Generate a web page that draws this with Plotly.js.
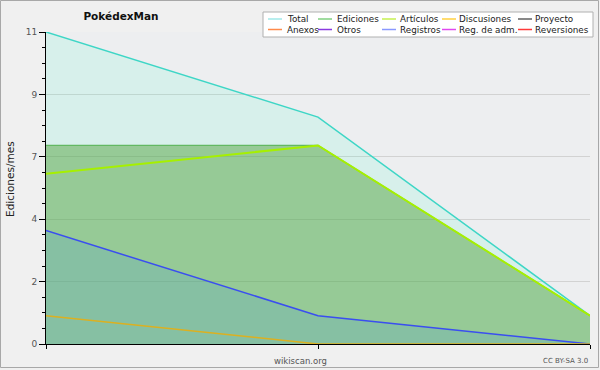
<!DOCTYPE html>
<html><head><meta charset="utf-8">
<script src="https://cdn.plot.ly/plotly-3.0.1.min.js"></script>
<style>html,body{margin:0;padding:0;background:#f0f0f0;}#chart{width:600px;height:370px;}</style>
</head><body><div id="chart"></div>
<script>
// ---- data ----
const months = [0, 1, 2];
const total = [11, 8, 1];
const ediciones = [7, 7, 1];
const articulos = [6, 7, 1];
const discusiones = [1, 0, 0];
const registros = [4, 1, 0];
const yTickVals = [0, 2.2, 4.4, 6.6, 8.8, 11];
const yTickText = ['0', '2', '4', '7', '9', '11'];
const legendNames = [['Total', 'Anexos'], ['Ediciones', 'Otros'], ['Artículos', 'Registros'], ['Discusiones', 'Reg. de adm.'], ['Proyecto', 'Reversiones']];
const legendColors = [['#a0e8e8', '#ff8a4a'], ['#80d080', '#8a3ae0'], ['#c6f050', '#8a98ff'], ['#ffd040', '#e048f0'], ['#606060', '#ff3a3a']];

// ---- layout geometry (pixels) ----
const W = 600, H = 370, ML = 46, MR = 10, MT = 32, MB = 26;
const PW = W - ML - MR, PH = H - MT - MB;
const xp = px => (px - ML) / PW;
const yp = py => (H - MB - py) / PH;
const legSymX = [268, 318, 382, 442, 518];
const legTextX = [285, 335, 398, 457, 533];
const legRowY = [19, 29.5];

const traces = [
  {x: months, y: total, name: 'Total', mode: 'lines', line: {color: '#3ed6c6', width: 1.5}, fill: 'tozeroy', fillcolor: 'rgba(70,255,200,0.13)'},
  {x: months, y: ediciones, name: 'Ediciones', mode: 'lines', line: {color: '#62b862', width: 1.2}, fill: 'tozeroy', fillcolor: 'rgba(85,164,65,0.5)'},
  {x: months, y: registros, name: 'Registros', mode: 'lines', line: {color: '#3a4ef0', width: 1.5}, fill: 'tozeroy', fillcolor: 'rgba(86,162,202,0.25)'},
  {x: months, y: articulos, name: 'Artículos', mode: 'lines', line: {color: '#a6f000', width: 2}},
  {x: months, y: discusiones, name: 'Discusiones', mode: 'lines', line: {color: '#dcb020', width: 1.5}}
];

const shapes = [
  {type: 'rect', xref: 'paper', yref: 'paper', x0: xp(0.5), x1: xp(598.5), y0: yp(0.5), y1: yp(367.5), line: {color: '#a8a8a8', width: 1}, layer: 'above'},
  {type: 'rect', xref: 'paper', yref: 'paper', x0: xp(263), x1: xp(593), y0: yp(12), y1: yp(37), fillcolor: '#ffffff', line: {color: '#b0b0b0', width: 1}, layer: 'above'}
];
const annotations = [
  {xref: 'paper', yref: 'paper', x: xp(10), y: yp(179), text: 'Ediciones/mes', textangle: -90, showarrow: false, xanchor: 'center', yanchor: 'middle', font: {size: 10.5, color: '#222'}},
  {xref: 'paper', yref: 'paper', x: xp(300), y: yp(361), text: 'wikiscan.org', showarrow: false, xanchor: 'center', yanchor: 'middle', font: {size: 8.5, color: '#555'}},
  {xref: 'paper', yref: 'paper', x: xp(590), y: yp(361), text: 'CC BY-SA 3.0', showarrow: false, xanchor: 'right', yanchor: 'middle', font: {size: 7, color: '#555'}}
];
legendNames.forEach((col, c) => col.forEach((name, r) => {
  shapes.push({type: 'line', xref: 'paper', yref: 'paper', x0: xp(legSymX[c]), x1: xp(legSymX[c] + 14), y0: yp(legRowY[r]), y1: yp(legRowY[r]), line: {color: legendColors[c][r], width: 1.5}, layer: 'above'});
  annotations.push({xref: 'paper', yref: 'paper', x: xp(legTextX[c]), y: yp(legRowY[r]), text: name, showarrow: false, xanchor: 'left', yanchor: 'middle', font: {size: 8.8, color: '#222'}});
}));

const layout = {
  width: W, height: H,
  margin: {l: ML, r: MR, t: MT, b: MB, pad: 0},
  paper_bgcolor: '#f0f0f0', plot_bgcolor: '#edeef0',
  font: {family: 'DejaVu Sans', color: '#222'},
  showlegend: false,
  title: {text: 'PokédexMan', x: 121 / W, xref: 'container', xanchor: 'center', y: 1 - 16 / H, yref: 'container', yanchor: 'middle', font: {size: 10.5, weight: 'bold', color: '#111'}},
  xaxis: {range: [0, 2], tickmode: 'array', tickvals: months, ticks: 'outside', ticklen: 4, tickcolor: '#000', showticklabels: false, showline: true, linecolor: '#000', linewidth: 1, showgrid: false, zeroline: false, fixedrange: true},
  yaxis: {range: [0, 11], tickmode: 'array', tickvals: yTickVals, ticktext: yTickText, ticks: 'outside', ticklen: 6, tickcolor: '#000', tickfont: {size: 9, color: '#555'}, showline: true, linecolor: '#000', linewidth: 1, showgrid: true, gridcolor: '#d2d2d2', zeroline: false, fixedrange: true,
    minor: {tickmode: 'linear', tick0: 0, dtick: 0.55, ticks: 'outside', ticklen: 3, tickcolor: '#000', showgrid: false}},
  shapes: shapes, annotations: annotations
};
Plotly.newPlot('chart', traces, layout, {displayModeBar: false, staticPlot: true});
</script></body></html>
